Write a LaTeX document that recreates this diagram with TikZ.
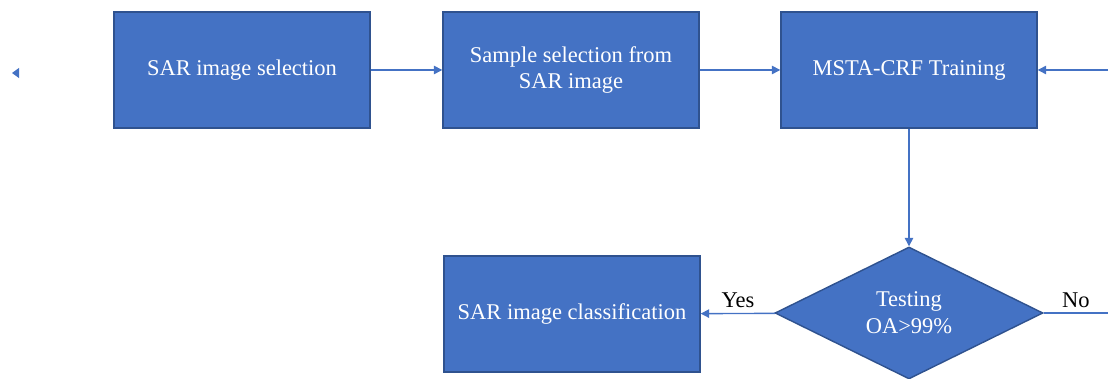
\documentclass[tikz,border=0pt]{standalone}
\usepackage{fontspec}
\setmainfont{Liberation Serif}
\usetikzlibrary{shapes.geometric,arrows.meta}
\definecolor{boxblue}{HTML}{4472C4}
\definecolor{boxedge}{HTML}{2F528F}
\tikzset{
    stagebox/.style={draw=boxedge, fill=boxblue, line width=1pt, text=white,
        minimum width=6.4cm, minimum height=2.9cm, align=center, font=\fontsize{16}{19}\selectfont},
    testbox/.style={diamond, draw=boxedge, fill=boxblue, line width=1pt, text=white, inner sep=0pt,
        minimum width=6.7cm, minimum height=3.3cm, align=center, font=\fontsize{16}{19}\selectfont},
    flow/.style={draw=boxblue, line width=1pt, -{Triangle[width=6pt,length=6pt]}},
    branch/.style={font=\fontsize{16}{19}\selectfont, text=black}
}

\begin{document}
\begin{tikzpicture}
    \useasboundingbox (0,0) rectangle (27.7,9.475);

    % Stages
    \node[stagebox] (select) at (6.05,7.725) {SAR image selection};
    \node[stagebox] (sample) at (14.275,7.725) {Sample selection from\\SAR image};
    \node[stagebox] (train) at (22.725,7.725) {MSTA-CRF Training};
    \node[stagebox] (classify) at (14.3,1.625) {SAR image classification};
    \node[testbox] (test) at (22.725,1.65) {Testing\\OA>99\%};

    % Loose ends at the border
    \coordinate (back) at (27.7,7.725);
    \coordinate (noend) at (27.7,1.65);
    \fill[boxblue] (0.3,7.65) -- (0.48,7.78) -- (0.48,7.52) -- cycle;

    % Flow
    \draw[flow] (select) -- (sample);
    \draw[flow] (sample) -- (train);
    \draw[flow] (back) -- (train);
    \draw[flow] (train) -- (test);
    \draw[flow] (test) -- node[branch, above] {Yes} (classify);
    \draw[draw=boxblue, line width=1pt] (test) -- node[branch, above] {No} (noend);
\end{tikzpicture}
\end{document}
